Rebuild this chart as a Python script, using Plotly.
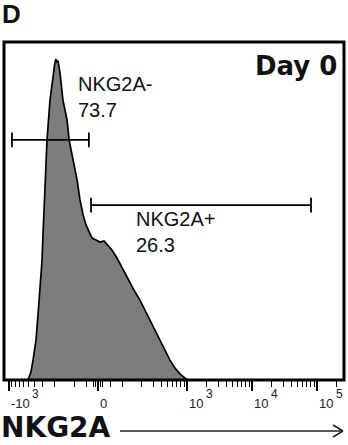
import numpy as np
import plotly.graph_objects as go

# ---------------- data ----------------
# histogram outline (fluorescence intensity, % of max)
hist_x = [-510, -459, -427, -384, -358, -333, -310, -300, -279, -260, -234, -210,
          -196, -189, -183, -176, -170, -164, -148, -128, -119, -104, -87, -75,
          -62, -50, -37, -25, -8, 8, 25, 42, 58, 79, 100, 124, 153, 189, 226,
          270, 322, 384, 459, 547, 653, 780, 931, 1036]
hist_y = [0, 2.5, 6.2, 12.5, 20.2, 28.0, 37.4, 45.2, 59.2, 74.8, 87.2, 95.6,
          99.1, 100, 99.1, 99.4, 97.8, 95.6, 87.2, 81.0, 74.8, 68.5, 62.3, 56.1,
          51.4, 48.3, 46.1, 44.2, 43.6, 43.0, 43.3, 41.7, 40.5, 38.0, 34.9, 31.2,
          28.0, 24.9, 21.8, 18.7, 15.6, 12.5, 9.3, 6.2, 3.7, 1.9, 0.6, 0]

gate_names = ["NKG2A-", "NKG2A+"]
gate_pcts = ["73.7", "26.3"]
gate_lo = [-900, -29]
gate_hi = [-38, 80900]
gate_level = [74.8, 54.5]

tick_values = [-1000, 0, 1000, 10000, 100000]
tick_bases = ["-10", "0", "10", "10", "10"]
tick_exps = ["3", "", "3", "4", "5"]
minor_values = ([-k * 100 for k in range(1, 10)] + [-50, -20, -10, 10, 20, 50] +
                [k * 100 for k in range(1, 10)] + [k * 1000 for k in range(2, 10)] +
                [k * 10000 for k in range(2, 10)] + [200000])

panel_label = "D"
sample_label = "Day 0"
axis_title = "NKG2A"

# ---------------- biexponential-like scale ----------------
LIN = 100.0
LIN_D = 24.0 / 65.0


def biex(v):
    v = np.asarray(v, dtype=float)
    a = np.abs(v)
    d = np.where(a < LIN, LIN_D * a / LIN, LIN_D + np.log10(np.maximum(a, 1e-9) / LIN))
    return np.sign(v) * d


FONT = "Liberation Sans, Arial, Helvetica, sans-serif"
WIDE = "DejaVu Sans, Liberation Sans, Arial, sans-serif"
W, H = 348, 445
ML, MR, MT, MB = 4, 4, 42, 65


def px2paper(px, py):
    return (px - ML) / (W - ML - MR), 1 - (py - MT) / (H - MT - MB)


fig = go.Figure()

fig.add_trace(go.Scatter(
    x=biex(hist_x), y=hist_y, mode="lines", fill="tozeroy",
    fillcolor="#7d7d7d", line=dict(color="black", width=1.7),
    hoverinfo="skip", showlegend=False))

cap = 2.3
for lo, hi, lev in zip(gate_lo, gate_hi, gate_level):
    xl, xh = float(biex(lo)), float(biex(hi))
    fig.add_trace(go.Scatter(
        x=[xl, xl, None, xl, xh, None, xh, xh],
        y=[lev - cap, lev + cap, None, lev, lev, None, lev - cap, lev + cap],
        mode="lines", line=dict(color="black", width=1.8),
        hoverinfo="skip", showlegend=False))

# gate labels
label_pos = [(76, 71), (134, 206)]
for (px, py), name, pct in zip(label_pos, gate_names, gate_pcts):
    p = px2paper(px, py)
    fig.add_annotation(
        x=p[0], y=p[1], xref="paper", yref="paper", xanchor="left", yanchor="top",
        text=f"{name}<br>{pct}", align="left", showarrow=False,
        font=dict(family=FONT, size=20, color="#111"))

p = px2paper(339, 49)
fig.add_annotation(
    x=p[0], y=p[1], xref="paper", yref="paper", xanchor="right", yanchor="top",
    text=f"<b>{sample_label}</b>", showarrow=False,
    font=dict(family=WIDE, size=26, color="#111"))

p = px2paper(0, -3)
fig.add_annotation(
    x=p[0], y=p[1], xref="paper", yref="paper", xanchor="left", yanchor="top",
    text=f"<b>{panel_label}</b>", showarrow=False,
    font=dict(family=FONT, size=26, color="#111"))

p = px2paper(0, 445)
fig.add_annotation(
    x=p[0], y=p[1], xref="paper", yref="paper", xanchor="left", yanchor="bottom",
    text=f"<b>{axis_title}</b>", showarrow=False, borderpad=0,
    font=dict(family=WIDE, size=28, color="#111"))

# tick labels, left-aligned at their ticks (base + raised exponent)
by = px2paper(0, 403)[1]
ey = px2paper(0, 394)[1]
for v, base, ex in zip(tick_values, tick_bases, tick_exps):
    xv = float(biex(v))
    fig.add_annotation(
        x=xv, y=by, xref="x", yref="paper", xanchor="left", yanchor="middle",
        text=base, showarrow=False, font=dict(family=FONT, size=13, color="#222"))
    if ex:
        wbase = 7.3 * len(base.replace("-", "")) + (4.5 if base.startswith("-") else 0)
        fig.add_annotation(
            x=xv, y=ey, xref="x", yref="paper", xanchor="left", yanchor="middle",
            xshift=wbase + 2, text=ex, showarrow=False,
            font=dict(family=FONT, size=12, color="#222"))

# frame box
fig.add_shape(type="rect", xref="paper", yref="paper", x0=0, x1=1, y0=0, y1=1,
              line=dict(color="black", width=3))

# arrow (open head)
ax0 = px2paper(120, 431)
ax1 = px2paper(343, 431)
ah1 = px2paper(333, 425)
ah2 = px2paper(333, 437)
for a, b in [(ax0, ax1), (ah1, ax1), (ah2, ax1)]:
    fig.add_shape(type="line", xref="paper", yref="paper",
                  x0=a[0], y0=a[1], x1=b[0], y1=b[1],
                  line=dict(color="#222", width=1.5))

fig.update_layout(
    width=W, height=H,
    margin=dict(l=ML, r=MR, t=MT, b=MB, pad=0),
    paper_bgcolor="white", plot_bgcolor="white",
    showlegend=False,
    xaxis=dict(
        range=[(ML - 98) / 65.0, (W - MR - 98) / 65.0],
        showgrid=False, zeroline=False, showline=False,
        tickmode="array", tickvals=biex(tick_values).tolist(),
        showticklabels=False,
        ticks="outside", ticklen=10, tickwidth=1.5, tickcolor="black",
        minor=dict(tickmode="array", tickvals=biex(minor_values).tolist(),
                   ticks="outside", ticklen=6, tickwidth=1.3, tickcolor="black"),
        fixedrange=True),
    yaxis=dict(range=[0, 105.3], showgrid=False, zeroline=False, showline=False,
               showticklabels=False, ticks="", fixedrange=True),
)

fig.write_html("out.html")
